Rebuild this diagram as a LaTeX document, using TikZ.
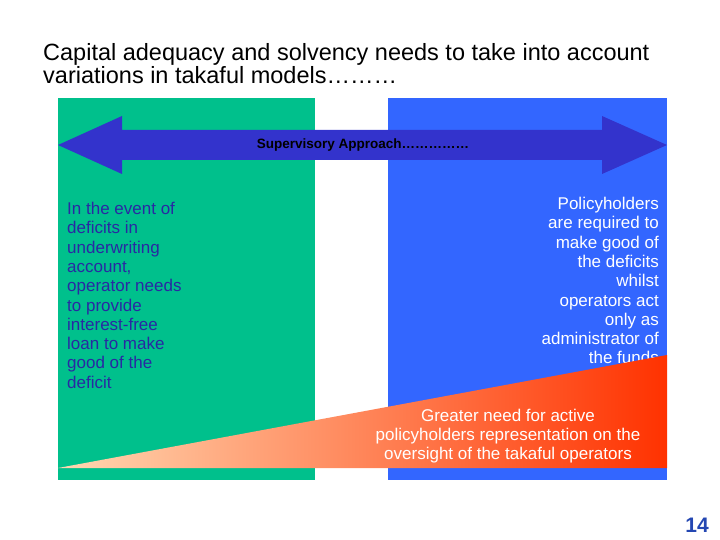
\documentclass[tikz,border=0pt]{standalone}
\usepackage{fontspec}
\setmainfont{Liberation Sans}
\begin{document}
\begin{tikzpicture}[x=1pt,y=-1pt,
  txt/.style={font=\fontsize{17}{19.3}\selectfont, inner sep=0pt}]
\useasboundingbox (0,0) rectangle (720,540);
\definecolor{grn}{HTML}{00C08C}
\definecolor{blu}{HTML}{3366FF}
\definecolor{arr}{HTML}{3333CC}
\fill[grn] (58,98) rectangle (315,480);
\fill[blu] (388,98) rectangle (667,480);
\node[anchor=north west, align=left, font=\fontsize{23.5}{20}\selectfont, inner sep=0pt] (title) at (43,43)
 {Capital adequacy and solvency needs to take into account\\variations in takaful models\dots\dots\dots};
\fill[arr] (58,145) -- (122,116) -- (122,130) -- (602,130) -- (602,116) -- (667,145) -- (602,174) -- (602,160) -- (122,160) -- (122,174) -- cycle;
\node[inner sep=0pt, font=\fontsize{13.5}{14}\selectfont\bfseries] (sup) at (363,145) {Supervisory Approach\dots\dots\dots\dots\dots};
\node[txt, anchor=north west, align=left, text=arr!80!black] (left) at (67,202)
 {In the event of\\deficits in\\underwriting\\account,\\operator needs\\to provide\\interest-free\\loan to make\\good of the\\deficit};
\node[txt, anchor=north east, align=right, text=white] (right) at (659,197)
 {Policyholders\\are required to\\make good of\\the deficits\\whilst\\operators act\\only as\\administrator of\\the funds};
\begin{scope}
\clip (58,468) -- (667,355) -- (667,468) -- cycle;
\shade[left color=orange!30!white, right color={rgb,255:red,255;green,50;blue,0}] (58,350) rectangle (667,468);
\end{scope}
\node[txt, align=center, text=white] (tri) at (508,436)
 {Greater need for active\\policyholders representation on the\\oversight of the takaful operators};
\node[font=\fontsize{21}{21}\selectfont\bfseries, text=blu!70!black, inner sep=0pt] (pg) at (697,525) {14};
\end{tikzpicture}
\end{document}
